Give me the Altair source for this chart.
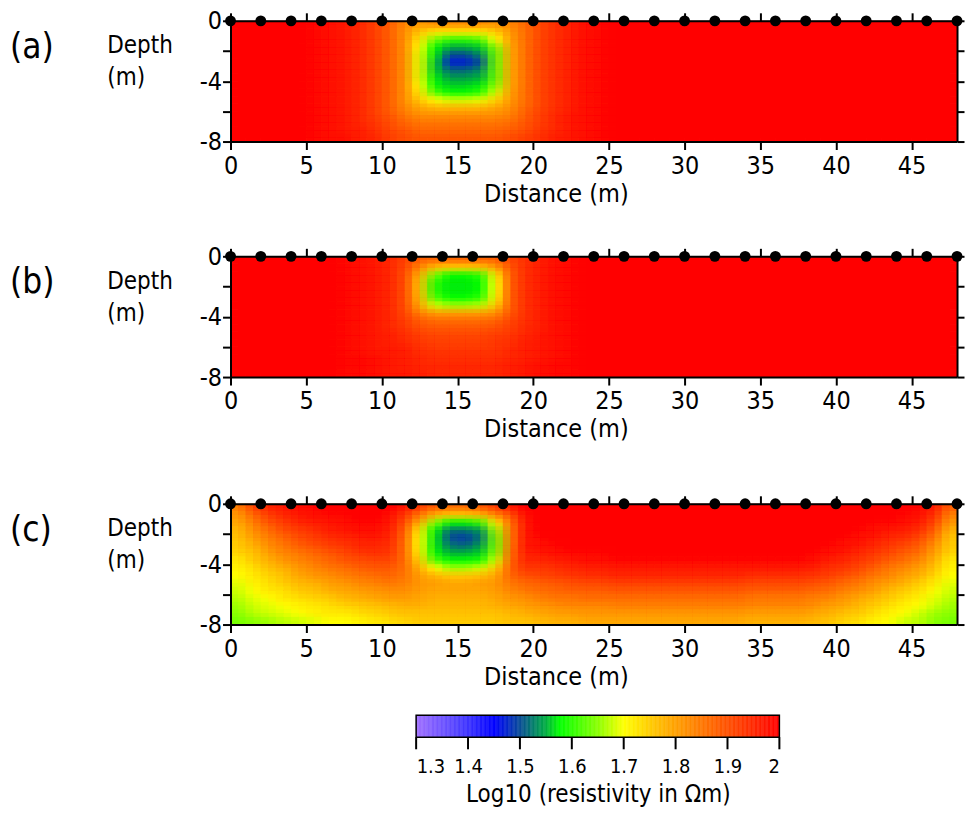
import altair as alt
import pandas as pd

# ---------------- data ----------------
# Electrode positions along the survey line (m), all on the surface (depth 0)
ELECTRODE_X = [0, 2, 4, 6, 8, 10, 12, 14, 16, 18, 20, 22, 24,
               26, 28, 30, 32, 34, 36, 38, 40, 42, 44, 46, 48]
ELECTRODE_DEPTH = 0.0

X_TICKS = [0, 5, 10, 15, 20, 25, 30, 35, 40, 45]
Y_TICKS = [0, -2, -4, -6, -8]
CB_TICKS = [1.3, 1.4, 1.5, 1.6, 1.7, 1.8, 1.9, 2.0]

# colour bar stops (log10 resistivity -> colour)
CB_DOMAIN = [1.30, 1.35, 1.40, 1.45, 1.50, 1.55, 1.575, 1.65, 1.70, 1.75, 1.80, 1.90, 2.00]
CB_COLORS = ["#a070ff", "#6f55ff", "#3c33ff", "#0000ff", "#0a4f96", "#00b040", "#00ff00",
             "#8cff00", "#ffff00", "#ffcc00", "#ffa000", "#ff5000", "#ff0000"]

# model cells: 48 columns of 1 m, each a sounding of 16 cells of 0.5 m (top -> bottom)
CELL_W = 1.0
CELL_H = 0.5

# log10(resistivity) x 100, one list per 1 m column, x = 0..48
PANEL_A = [
    [200,200,200,200,200,200,200,200,200,200,200,200,200,200,200,200],
    [200,200,200,200,200,200,200,200,200,200,200,200,200,200,200,200],
    [200,200,200,200,200,200,200,200,200,200,200,200,200,200,200,200],
    [200,200,200,200,200,200,200,200,200,200,200,200,200,200,200,200],
    [200,200,200,200,200,200,200,200,200,200,200,200,200,200,200,200],
    [199,199,199,199,199,199,199,199,199,199,199,199,199,199,199,199],
    [198,198,198,198,198,198,198,198,198,198,198,198,198,198,198,198],
    [197,197,197,197,197,197,197,197,197,197,197,197,197,197,197,198],
    [195,195,195,195,195,195,195,195,195,195,195,195,195,195,196,196],
    [192,192,192,192,192,192,192,192,192,192,192,192,192,193,194,195],
    [188,188,188,188,188,188,188,188,188,188,188,188,189,190,191,192],
    [183,182,182,182,182,182,182,182,182,182,182,183,185,187,189,190],
    [180,176,172,170,169,169,169,169,170,172,175,179,182,185,187,189],
    [182,172,164,158,157,156,156,157,158,162,170,177,182,185,187,189],
    [182,172,160,155,150,147,151,154,156,158,168,177,182,185,187,189],
    [182,172,160,155,150,147,151,154,156,158,168,177,182,185,187,189],
    [182,172,162,156,153,150,153,155,157,160,169,177,182,185,187,189],
    [181,175,170,165,163,163,163,163,165,168,174,179,182,185,187,189],
    [183,181,180,179,179,179,179,179,179,180,181,182,184,186,188,190],
    [187,186,186,186,186,186,186,186,186,186,186,187,188,189,190,192],
    [191,191,191,191,191,191,191,191,191,191,191,191,192,192,193,194],
    [194,194,194,194,194,194,194,194,194,194,194,194,195,195,195,196],
    [196,196,196,196,196,196,196,196,196,196,196,196,197,197,197,197],
    [198,198,198,198,198,198,198,198,198,198,198,198,198,198,198,198],
    [199,199,199,199,199,199,199,199,199,199,199,199,199,199,199,199],
    [200,200,200,200,200,200,200,200,200,200,200,200,200,200,200,200],
    [200,200,200,200,200,200,200,200,200,200,200,200,200,200,200,200],
    [200,200,200,200,200,200,200,200,200,200,200,200,200,200,200,200],
    [200,200,200,200,200,200,200,200,200,200,200,200,200,200,200,200],
    [200,200,200,200,200,200,200,200,200,200,200,200,200,200,200,200],
    [200,200,200,200,200,200,200,200,200,200,200,200,200,200,200,200],
    [200,200,200,200,200,200,200,200,200,200,200,200,200,200,200,200],
    [200,200,200,200,200,200,200,200,200,200,200,200,200,200,200,200],
    [200,200,200,200,200,200,200,200,200,200,200,200,200,200,200,200],
    [200,200,200,200,200,200,200,200,200,200,200,200,200,200,200,200],
    [200,200,200,200,200,200,200,200,200,200,200,200,200,200,200,200],
    [200,200,200,200,200,200,200,200,200,200,200,200,200,200,200,200],
    [200,200,200,200,200,200,200,200,200,200,200,200,200,200,200,200],
    [200,200,200,200,200,200,200,200,200,200,200,200,200,200,200,200],
    [200,200,200,200,200,200,200,200,200,200,200,200,200,200,200,200],
    [200,200,200,200,200,200,200,200,200,200,200,200,200,200,200,200],
    [200,200,200,200,200,200,200,200,200,200,200,200,200,200,200,200],
    [200,200,200,200,200,200,200,200,200,200,200,200,200,200,200,200],
    [200,200,200,200,200,200,200,200,200,200,200,200,200,200,200,200],
    [200,200,200,200,200,200,200,200,200,200,200,200,200,200,200,200],
    [200,200,200,200,200,200,200,200,200,200,200,200,200,200,200,200],
    [200,200,200,200,200,200,200,200,200,200,200,200,200,200,200,200],
    [200,200,200,200,200,200,200,200,200,200,200,200,200,200,200,200],
]

PANEL_B = [
    [200,200,200,200,200,200,200,200,200,200,200,200,200,200,200,200],
    [200,200,200,200,200,200,200,200,200,200,200,200,200,200,200,200],
    [200,200,200,200,200,200,200,200,200,200,200,200,200,200,200,200],
    [200,200,200,200,200,200,200,200,200,200,200,200,200,200,200,200],
    [200,200,200,200,200,200,200,200,200,200,200,200,200,200,200,200],
    [200,200,200,200,200,200,200,200,200,200,200,200,200,200,200,200],
    [200,200,200,200,200,200,200,200,200,200,200,200,200,200,200,200],
    [199,199,199,199,199,199,199,199,199,199,199,199,199,199,199,199],
    [198,198,198,198,198,198,198,198,198,198,198,198,198,199,199,199],
    [197,197,197,197,197,197,197,197,197,197,197,197,197,198,198,198],
    [195,195,195,195,195,195,195,195,195,195,196,196,197,197,197,197],
    [192,191,190,190,190,190,190,191,192,193,194,195,196,196,196,197],
    [188,183,178,176,176,177,179,184,188,190,192,193,194,195,195,196],
    [187,176,164,160,160,162,168,180,186,189,191,192,193,194,195,195],
    [187,174,158,157,157,158,166,180,186,189,191,192,193,194,195,195],
    [187,174,158,157,157,158,166,180,186,189,191,192,193,194,195,195],
    [187,175,160,158,158,160,167,180,186,189,191,192,193,194,195,195],
    [188,180,172,170,170,171,175,182,187,190,192,193,193,194,195,195],
    [191,189,188,188,188,188,188,189,191,192,193,194,195,195,196,196],
    [194,194,194,194,194,194,194,194,194,195,195,196,196,196,197,197],
    [196,196,196,196,196,196,196,196,196,196,197,197,197,197,198,198],
    [198,198,198,198,198,198,198,198,198,198,198,198,198,198,199,199],
    [199,199,199,199,199,199,199,199,199,199,199,199,199,199,199,199],
    [200,200,200,200,200,200,200,200,200,200,200,200,200,200,200,200],
    [200,200,200,200,200,200,200,200,200,200,200,200,200,200,200,200],
    [200,200,200,200,200,200,200,200,200,200,200,200,200,200,200,200],
    [200,200,200,200,200,200,200,200,200,200,200,200,200,200,200,200],
    [200,200,200,200,200,200,200,200,200,200,200,200,200,200,200,200],
    [200,200,200,200,200,200,200,200,200,200,200,200,200,200,200,200],
    [200,200,200,200,200,200,200,200,200,200,200,200,200,200,200,200],
    [200,200,200,200,200,200,200,200,200,200,200,200,200,200,200,200],
    [200,200,200,200,200,200,200,200,200,200,200,200,200,200,200,200],
    [200,200,200,200,200,200,200,200,200,200,200,200,200,200,200,200],
    [200,200,200,200,200,200,200,200,200,200,200,200,200,200,200,200],
    [200,200,200,200,200,200,200,200,200,200,200,200,200,200,200,200],
    [200,200,200,200,200,200,200,200,200,200,200,200,200,200,200,200],
    [200,200,200,200,200,200,200,200,200,200,200,200,200,200,200,200],
    [200,200,200,200,200,200,200,200,200,200,200,200,200,200,200,200],
    [200,200,200,200,200,200,200,200,200,200,200,200,200,200,200,200],
    [200,200,200,200,200,200,200,200,200,200,200,200,200,200,200,200],
    [200,200,200,200,200,200,200,200,200,200,200,200,200,200,200,200],
    [200,200,200,200,200,200,200,200,200,200,200,200,200,200,200,200],
    [200,200,200,200,200,200,200,200,200,200,200,200,200,200,200,200],
    [200,200,200,200,200,200,200,200,200,200,200,200,200,200,200,200],
    [200,200,200,200,200,200,200,200,200,200,200,200,200,200,200,200],
    [200,200,200,200,200,200,200,200,200,200,200,200,200,200,200,200],
    [200,200,200,200,200,200,200,200,200,200,200,200,200,200,200,200],
    [200,200,200,200,200,200,200,200,200,200,200,200,200,200,200,200],
]

PANEL_C = [
    [184,181,179,177,176,175,174,172,171,170,169,168,167,166,165,164],
    [191,187,184,182,180,178,176,175,173,172,171,170,169,168,167,165],
    [195,192,189,186,184,182,180,178,176,174,173,172,170,169,168,166],
    [197,195,192,190,187,185,183,181,178,176,175,173,172,170,169,167],
    [198,197,195,192,190,188,185,183,181,179,177,175,173,171,170,168],
    [199,198,196,194,192,190,187,185,183,181,178,176,174,172,171,169],
    [200,199,197,196,194,192,189,187,185,182,180,178,175,173,172,170],
    [200,199,198,197,195,193,191,189,186,184,181,179,177,174,172,170],
    [200,200,199,198,196,195,193,190,188,185,183,180,178,175,173,171],
    [200,200,199,198,197,195,194,191,189,186,184,181,179,176,174,172],
    [200,198,197,196,195,194,193,191,189,187,185,182,180,177,175,173],
    [197,193,190,188,187,186,186,186,186,185,184,182,180,178,176,174],
    [192,185,178,172,170,170,171,174,178,180,181,180,179,178,176,175],
    [188,178,165,158,157,157,158,162,170,177,180,179,178,177,176,175],
    [186,175,158,152,150,152,155,158,166,175,179,179,178,177,176,175],
    [186,175,158,152,149,151,155,158,166,175,179,179,178,177,176,175],
    [188,177,161,154,152,154,156,159,168,176,180,179,178,177,176,175],
    [192,183,172,166,164,164,165,168,175,179,181,180,179,178,176,175],
    [196,190,186,185,185,185,186,187,188,187,185,183,181,179,177,176],
    [200,198,197,197,197,197,196,195,193,190,187,185,182,180,178,176],
    [200,200,200,200,199,198,197,195,193,191,188,186,184,181,179,177],
    [200,200,200,200,200,199,198,196,194,192,189,187,185,182,180,178],
    [200,200,200,200,200,200,199,197,195,193,190,188,185,183,180,178],
    [200,200,200,200,200,200,199,198,196,194,191,188,186,183,181,179],
    [200,200,200,200,200,200,199,198,196,194,191,188,186,183,181,179],
    [200,200,200,200,200,200,200,199,197,195,192,189,186,184,181,179],
    [200,200,200,200,200,200,200,199,197,195,192,189,186,184,181,179],
    [200,200,200,200,200,200,200,199,197,195,192,189,186,184,181,179],
    [200,200,200,200,200,200,200,199,197,195,192,189,186,184,181,179],
    [200,200,200,200,200,200,200,199,197,195,192,189,186,184,181,179],
    [200,200,200,200,200,200,200,199,197,195,192,189,186,184,181,179],
    [200,200,200,200,200,200,200,199,197,195,192,189,186,184,181,179],
    [200,200,200,200,200,200,200,199,197,195,192,189,186,184,181,179],
    [200,200,200,200,200,200,200,199,197,195,192,189,186,184,181,179],
    [200,200,200,200,200,200,200,199,197,194,191,188,185,183,180,178],
    [200,200,200,200,200,200,200,199,197,194,191,188,185,183,180,178],
    [200,200,200,200,200,200,200,199,197,194,191,188,185,183,180,178],
    [200,200,200,200,200,200,200,199,197,194,191,188,185,183,180,178],
    [200,200,200,200,200,200,199,198,196,193,190,187,184,182,179,177],
    [200,200,200,200,200,199,198,196,194,192,189,186,183,180,178,176],
    [200,200,200,200,199,198,197,195,193,190,187,184,181,179,176,174],
    [200,200,200,199,198,197,195,193,191,188,185,182,179,177,175,173],
    [200,200,199,198,197,195,193,191,188,185,182,180,177,175,173,171],
    [200,200,199,197,195,193,191,188,185,183,180,177,175,173,171,170],
    [200,199,198,196,194,191,188,186,183,180,178,175,173,171,170,168],
    [199,198,196,194,191,188,186,183,180,178,175,173,171,170,168,167],
    [196,194,191,188,185,182,180,178,176,174,172,170,169,168,166,165],
    [188,184,181,178,176,175,174,172,171,170,169,168,167,166,165,164],
]

PANEL_TAGS = ["(a)", "(b)", "(c)"]

# ---------------- styling ----------------
FONT = "DejaVu Sans Condensed, DejaVu Sans, sans-serif"
PLOT_W = 728
PLOT_H = 121

X_SCALE = alt.Scale(domain=[0, 48], nice=False, zero=False)
Y_SCALE = alt.Scale(domain=[-8, 0], nice=False, zero=False)
C_SCALE = alt.Scale(domain=CB_DOMAIN, range=CB_COLORS, interpolate="rgb", clamp=True)

AX = dict(domainColor="black", domainWidth=2, tickColor="black", tickWidth=2,
          labelColor="black", titleColor="black", grid=False, zindex=1,
          labelFont=FONT, titleFont=FONT, titleFontWeight="normal")

# display smoothing: the cell layer is overdrawn with copies shifted by half a cell,
# blended with [1/4, 1/2, 1/4] weights per direction (renderer-side linear blending)
SHIFTS = [(0, 0), (-1, 0), (1, 0), (0, -1), (0, 1), (-1, -1), (1, -1), (-1, 1), (1, 1)]


def shift_layers():
    out, cum = [], 0.0
    for sx, sy in SHIFTS:
        w = (0.5 if sx == 0 else 0.25) * (0.5 if sy == 0 else 0.25)
        cum += w
        out.append((sx * 0.5 * CELL_W, sy * 0.5 * CELL_H, w / cum))
    return out


def panel(cols, tag):
    recs = []
    for i, col in enumerate(cols):
        for j, v in enumerate(col):
            recs.append({"x0": i * CELL_W, "x1": (i + 1) * CELL_W,
                         "y0": -j * CELL_H, "y1": -(j + 1) * CELL_H, "v": v / 100.0})
    df = pd.DataFrame(recs)

    bottom_axis = alt.Axis(orient="bottom", values=X_TICKS, tickSize=8, labelFontSize=25,
                           labelPadding=4, labelFlush=False, title="Distance (m)",
                           titleFontSize=25, titleX=326, titleY=52, titleBaseline="middle",
                           titleAlign="center", **AX)
    left_axis = alt.Axis(orient="left", values=Y_TICKS, tickSize=8, labelFontSize=25,
                         labelPadding=1, labelFlush=False,
                         labelExpr="datum.value % 4 === 0 ? toString(datum.value) : ''",
                         title=["Depth", "(m)"], titleFontSize=24, titleAngle=0,
                         titleAlign="left", titleBaseline="top", titleLineHeight=32,
                         titleX=-124, titleY=13, **AX)

    layers = []
    for k, (dx, dy, a) in enumerate(shift_layers()):
        first = k == 0
        enc = dict(
            x=alt.X("xs0:Q", scale=X_SCALE, axis=bottom_axis if first else None),
            x2="xs1:Q",
            y=alt.Y("ys0:Q", scale=Y_SCALE, axis=left_axis if first else None),
            y2="ys1:Q",
            color=alt.Color("v:Q", scale=C_SCALE, legend=None),
        )
        if first:
            enc["stroke"] = alt.Stroke("v:Q", scale=C_SCALE, legend=None)
            mark = alt.Chart(df).mark_rect(strokeWidth=0.6, clip=True)
        else:
            mark = alt.Chart(df).mark_rect(opacity=a, clip=True)
        layers.append(mark.transform_calculate(
            xs0=f"datum.x0 + ({dx})", xs1=f"datum.x1 + ({dx})",
            ys0=f"datum.y0 + ({dy})", ys1=f"datum.y1 + ({dy})").encode(**enc))

    edf = pd.DataFrame({"x": ELECTRODE_X, "depth": ELECTRODE_DEPTH})
    elec = alt.Chart(edf).mark_circle(size=118, color="black", opacity=1).encode(
        x=alt.X("x:Q", scale=X_SCALE,
                axis=alt.Axis(orient="top", values=X_TICKS, tickSize=8, labels=False,
                              title=None, **AX)),
        y=alt.Y("depth:Q", scale=Y_SCALE,
                axis=alt.Axis(orient="right", values=Y_TICKS, tickSize=7, labels=False,
                              title=None, **AX)),
    )

    label = alt.Chart(pd.DataFrame({"t": [tag]})).mark_text(
        font=FONT, fontSize=35, align="left", baseline="middle", color="black"
    ).encode(text="t:N", x=alt.value(-221), y=alt.value(26))

    return alt.layer(*layers, elec, label).resolve_axis(
        x="independent", y="independent").properties(width=PLOT_W, height=PLOT_H)


pa, pb, pc = (panel(c, t) for c, t in zip([PANEL_A, PANEL_B, PANEL_C], PANEL_TAGS))

# colour bar: the view holds the 22 px bar plus 12 px of tick marks below it
CB_BAR_H = 22
CB_TICK_LEN = 12
cb_axis_style = {k: v for k, v in AX.items() if k not in ("domainWidth", "tickWidth")}
cb_x = alt.Scale(domain=[CB_TICKS[0], CB_TICKS[-1]], range=[186, 550], nice=False, zero=False)
strip = alt.Chart(alt.sequence(1.3, 2.0, 0.0025, as_="v")).transform_calculate(
    v2="datum.v + 0.0025").mark_rect(strokeWidth=0.5).encode(
    x=alt.X("v:Q", scale=cb_x,
            axis=alt.Axis(values=CB_TICKS, format="~g", ticks=False, tickSize=0,
                          labelFontSize=20, labelPadding=7, domain=False,
                          title="Log10 (resistivity in Ωm)", titleFontSize=24,
                          titlePadding=6, **cb_axis_style)),
    x2="v2:Q",
    y=alt.value(0), y2=alt.value(CB_BAR_H),
    color=alt.Color("v:Q", scale=C_SCALE, legend=None),
    stroke=alt.Stroke("v:Q", scale=C_SCALE, legend=None),
)
frame = alt.Chart(pd.DataFrame({"lo": [CB_TICKS[0]], "hi": [CB_TICKS[-1]]})).mark_rect(
    filled=False, stroke="black", strokeWidth=1.5).encode(
    x=alt.X("lo:Q", axis=None), x2="hi:Q", y=alt.value(0), y2=alt.value(CB_BAR_H))
cb_ticks = alt.Chart(pd.DataFrame({"t": CB_TICKS})).mark_rule(
    color="black", strokeWidth=2).encode(
    x=alt.X("t:Q", axis=None), y=alt.value(CB_BAR_H), y2=alt.value(CB_BAR_H + CB_TICK_LEN))
colorbar = alt.layer(strip, frame, cb_ticks).resolve_axis(x="independent").properties(
    width=PLOT_W, height=CB_BAR_H + CB_TICK_LEN)

top = alt.vconcat(pa, pb, spacing=38)
mid = alt.vconcat(top, pc, spacing=50)
chart = alt.vconcat(mid, colorbar, spacing=25).properties(
    padding={"left": 10, "top": 8, "right": 0, "bottom": 2}
).configure(font=FONT).configure_view(strokeWidth=0, stroke="transparent")

chart.save("out.html", embed_options={"renderer": "svg", "actions": False})
